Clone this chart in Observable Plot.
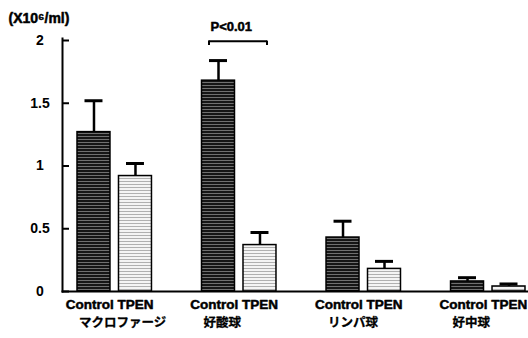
<!DOCTYPE html>
<html>
<head>
<meta charset="utf-8">
<script src="https://cdn.jsdelivr.net/npm/d3@7"></script>
<script src="https://cdn.jsdelivr.net/npm/@observablehq/plot@0.6"></script>
<style>
  html, body { margin: 0; padding: 0; background: white; overflow: hidden; }
</style>
</head>
<body>
<div id="chart"></div>
<script>
// ---- data ----
const groups = ["マクロファージ", "好酸球", "リンパ球", "好中球"];
const series = ["Control", "TPEN"];
const controlMean = [1.27, 1.68, 0.43, 0.08];
const controlErr  = [0.25, 0.16, 0.13, 0.03];
const tpenMean    = [0.92, 0.37, 0.18, 0.04];
const tpenErr     = [0.10, 0.10, 0.06, 0.02];
const yTicks = [0, 0.5, 1, 1.5, 2];
const unitLabel = "(X10⁶/ml)";
const sigLabel = "P<0.01";
const sigGroup = "好酸球";
const sigLevel = 1.995;
const sigTickEnd = 1.96;

const rows = [];
groups.forEach((g, i) => {
  rows.push({group: g, series: "Control", value: controlMean[i], err: controlErr[i]});
  rows.push({group: g, series: "TPEN", value: tpenMean[i], err: tpenErr[i]});
});

const latin = "'Liberation Sans', Arial, sans-serif";
const cjk = "'Noto Sans CJK JP', sans-serif";
const heavy = {fill: "black", stroke: "black", strokeWidth: 0.5, fontWeight: "bold"};

const chart = Plot.plot({
  width: 528,
  height: 338,
  marginLeft: 62,
  marginRight: 41,
  marginTop: 40,
  marginBottom: 47,
  style: {fontFamily: latin, fontSize: "14px", fontWeight: "bold", background: "white", color: "black"},
  fx: {domain: groups, range: [62, 540], paddingInner: 0.161, paddingOuter: 0, round: false, axis: null},
  x: {domain: series, paddingInner: 0.205, paddingOuter: 0.3615, round: false, axis: null},
  y: {domain: [0, 2], axis: null},
  color: {type: "ordinal", domain: series, range: ["url(#patControl)", "url(#patTPEN)"]},
  marks: [
    Plot.barY(rows, {fx: "group", x: "series", y: "value", fill: "series", stroke: "black", strokeWidth: 1.5}),
    Plot.ruleX(rows, {fx: "group", x: "series", y1: "value", y2: d => d.value + d.err, strokeWidth: 2.5}),
    Plot.tickY(rows, {fx: "group", x: "series", y: d => d.value + d.err, strokeWidth: 3, insetLeft: 7.5, insetRight: 7.5}),
    // y axis
    Plot.axisY({ticks: yTicks, tickFormat: d => String(d), label: null, tickSize: 0, tickPadding: 22.5, textAnchor: "middle", fontSize: 14, ...heavy}),
    Plot.axisY({ticks: yTicks, label: null, text: null, tickSize: -7, strokeWidth: 2}),
    Plot.frame({facet: "super", anchor: "left", strokeWidth: 2, insetTop: -2}),
    Plot.frame({facet: "super", anchor: "bottom", strokeWidth: 2}),
    // significance bracket
    Plot.ruleY([sigGroup], {fx: d => d, y: () => sigLevel, x1: () => "Control", x2: () => "TPEN", insetLeft: 7, insetRight: 9, strokeWidth: 2}),
    Plot.ruleX([sigGroup], {fx: d => d, x: () => "Control", y1: () => sigLevel, y2: () => sigTickEnd, dx: -9.5, strokeWidth: 2}),
    Plot.ruleX([sigGroup], {fx: d => d, x: () => "TPEN", y1: () => sigLevel, y2: () => sigTickEnd, dx: 7, strokeWidth: 2}),
    Plot.text([sigLabel], {fx: () => sigGroup, frameAnchor: "top", lineAnchor: "middle", dy: -14, dx: -8, fontSize: 13, fontFamily: latin, ...heavy}),
    // unit label
    Plot.text([unitLabel], {fx: () => groups[0], frameAnchor: "top-left", lineAnchor: "middle", dy: -22, dx: -54, textAnchor: "start", fontSize: 14, fontFamily: latin, ...heavy}),
    // category labels
    Plot.text(groups, {fx: d => d, text: () => "Control TPEN", frameAnchor: "bottom", lineAnchor: "middle", dy: 13, dx: -5, fontSize: 13.5, fontFamily: latin, ...heavy}),
    Plot.text(groups, {fx: d => d, x: () => "Control", text: d => d, frameAnchor: "bottom", lineAnchor: "middle", dy: 31.5, dx: -15, textAnchor: "start", fontSize: 12.5, fontFamily: cjk, ...heavy, strokeWidth: 0.3})
  ]
});

// stripe patterns for the bars
const svg = d3.select(chart.tagName.toLowerCase() === "svg" ? chart : chart.querySelector("svg"));
const defs = svg.insert("defs", ":first-child");
const pc = defs.append("pattern").attr("id", "patControl").attr("patternUnits", "userSpaceOnUse").attr("width", 6).attr("height", 3);
pc.append("rect").attr("width", 6).attr("height", 3).attr("fill", "#161616");
pc.append("rect").attr("y", 1).attr("width", 6).attr("height", 1).attr("fill", "#707070");
const pt = defs.append("pattern").attr("id", "patTPEN").attr("patternUnits", "userSpaceOnUse").attr("width", 6).attr("height", 3);
pt.append("rect").attr("width", 6).attr("height", 3).attr("fill", "#f4f4f4");
pt.append("rect").attr("y", 1).attr("width", 6).attr("height", 1).attr("fill", "#b0b0b0");

document.getElementById("chart").appendChild(chart);
</script>
</body>
</html>
